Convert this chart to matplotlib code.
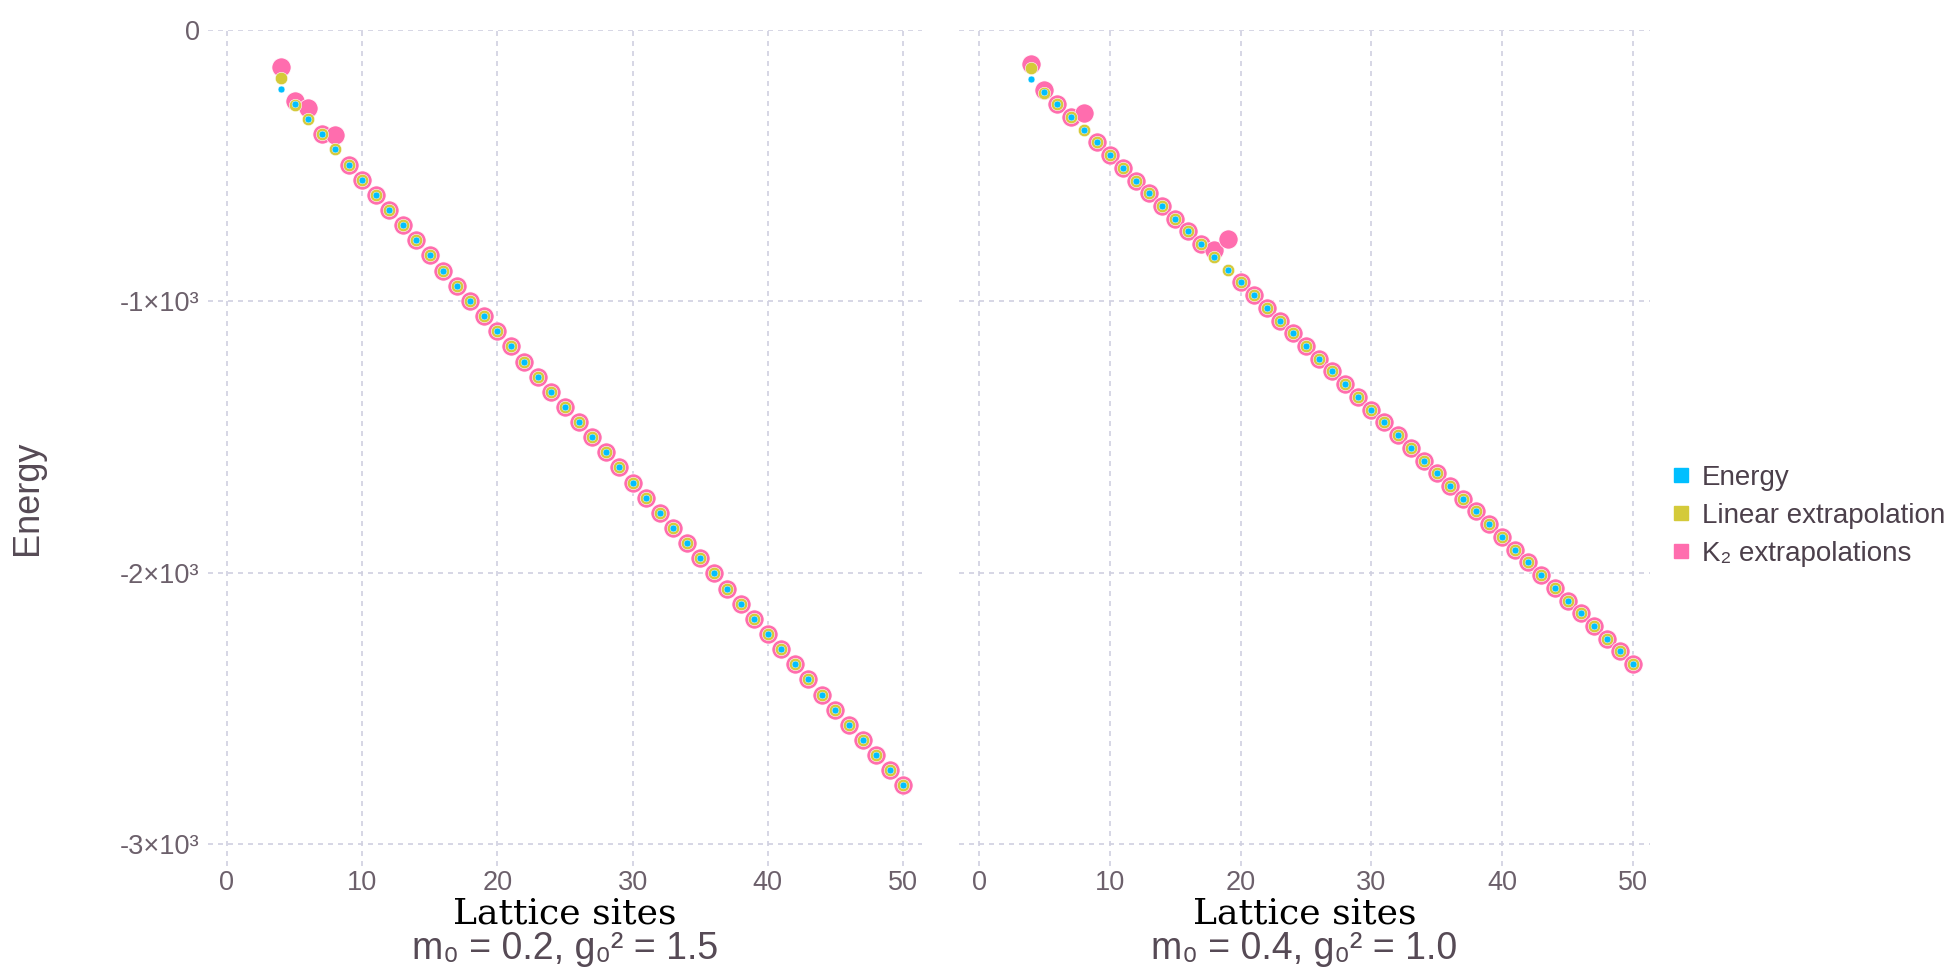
import matplotlib
matplotlib.use("Agg")
import matplotlib.pyplot as plt
from matplotlib.lines import Line2D
from matplotlib.ticker import FixedLocator, FuncFormatter

plt.rcParams['font.family'] = ['Liberation Sans', 'DejaVu Sans']

# lattice sizes shared by both runs
sites = list(range(4, 51))

# m0 = 0.2, g0^2 = 1.5
energy_a = [-217, -273, -329, -385, -440, -496, -552, -608, -664, -719, -775, -831,
            -887, -943, -998, -1054, -1110, -1166, -1222, -1277, -1333, -1389, -1445,
            -1501, -1556, -1612, -1668, -1724, -1780, -1835, -1891, -1947, -2003, -2059,
            -2114, -2170, -2226, -2282, -2338, -2393, -2449, -2505, -2561, -2617, -2672,
            -2728, -2784]
linear_a = [-176, -277] + energy_a[2:]
k2_a = [-135, -261, -289, -385, -387] + energy_a[5:]

# m0 = 0.4, g0^2 = 1.0
energy_b = [-180, -227, -273, -320, -367, -414, -461, -508, -555, -602, -649, -696,
            -742, -789, -836, -883, -930, -977, -1024, -1071, -1118, -1165, -1211,
            -1258, -1305, -1352, -1399, -1446, -1493, -1540, -1587, -1634, -1680, -1727,
            -1774, -1821, -1868, -1915, -1962, -2009, -2056, -2103, -2149, -2196, -2243,
            -2290, -2337]
linear_b = [-141, -232] + energy_b[2:]
k2_b = [-125, -221, -273, -320, -305] + energy_b[5:14] + [-811, -770] + energy_b[16:]

subtitles = ["m\u2080 = 0.2, g\u2080\u00b2 = 1.5", "m\u2080 = 0.4, g\u2080\u00b2 = 1.0"]
series_names = ["Energy", "Linear extrapolation", "K\u2082 extrapolations"]
colors = ["#00BFFF", "#D4CA3A", "#FF6DAE"]

xticks = [0, 10, 20, 30, 40, 50]
yticks = [0, -1000, -2000, -3000]

grid_color = "#D0D0E0"
tick_color = "#6C606B"
label_color = "#564A55"
key_color = "#4C404B"

W, H = 1953, 968
fig = plt.figure(figsize=(W / 100, H / 100), dpi=100)

panels = [
    (energy_a, linear_a, k2_a, [208, 922], (-1.4, 51.4)),
    (energy_b, linear_b, k2_b, [959, 1650], (-1.53, 51.3)),
]
y_top, y_bot = 30, 866

def ytick_fmt(v, pos):
    if v == 0:
        return "0"
    return "%d\u00d710\u00b3" % round(v / 1000)

for i, (en, lin, k2, (px0, px1), xlim) in enumerate(panels):
    ax = fig.add_axes([px0 / W, 1 - y_bot / H, (px1 - px0) / W, (y_bot - y_top) / H])
    for s in ax.spines.values():
        s.set_visible(False)
    ax.set_xlim(*xlim)
    ax.set_ylim(-3081, 0)
    ax.xaxis.set_major_locator(FixedLocator(xticks))
    ax.yaxis.set_major_locator(FixedLocator(yticks))
    ax.grid(True, color=grid_color, linestyle=(0, (3, 3)), linewidth=1.2)
    ax.set_axisbelow(True)
    ax.tick_params(length=0, labelsize=19.5, labelcolor=tick_color, pad=3)
    if i == 0:
        ax.yaxis.set_major_formatter(FuncFormatter(ytick_fmt))
        ax.tick_params(axis='y', pad=6)
    else:
        ax.set_yticklabels([])

    # largest markers underneath so the smaller ones stay visible
    ax.scatter(sites, k2, s=190, color=colors[2], edgecolors="white", linewidths=0.5, zorder=3)
    ax.scatter(sites, lin, s=80, color=colors[1], edgecolors="white", linewidths=0.4, zorder=4)
    ax.scatter(sites, en, s=24, color=colors[0], edgecolors="white", linewidths=0.3, zorder=5)

    ax.text(0.5, (y_bot - 914) / (y_bot - y_top), "Lattice sites", transform=ax.transAxes,
            ha="center", va="center", family="DejaVu Serif", fontsize=26, color="black")
    ax.text(0.5, (y_bot - 949) / (y_bot - y_top), subtitles[i], transform=ax.transAxes,
            ha="center", va="center", fontsize=27, color=label_color)

fig.text(27 / W, 1 - 498 / H, "Energy", rotation=90, ha="center", va="center",
         fontsize=26, color=label_color)

handles = [Line2D([], [], marker="s", linestyle="none", markersize=10,
                  markerfacecolor=c, markeredgecolor=c) for c in colors]
fig.legend(handles, series_names, loc="center left", bbox_to_anchor=(1653 / W, 1 - 516 / H),
           frameon=False, fontsize=20, labelcolor=key_color, handletextpad=0.25,
           labelspacing=0.43, borderpad=0, handlelength=1.0)

fig.savefig("out.png", dpi=100)
